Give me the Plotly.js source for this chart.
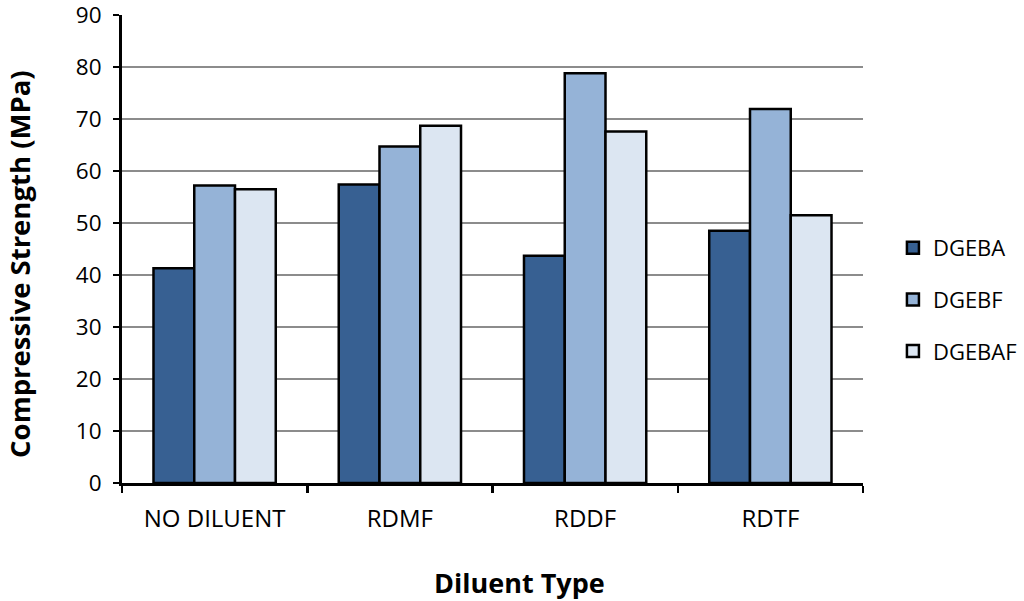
<!DOCTYPE html>
<html>
<head>
<meta charset="utf-8">
<script src="https://cdn.plot.ly/plotly-3.0.1.min.js"></script>
<style>html,body{margin:0;padding:0;background:#fff}#chart{width:1024px;height:601px}</style>
</head>
<body>
<div id="chart"></div>
<script>
const categories = ["NO DILUENT", "RDMF", "RDDF", "RDTF"];
const seriesNames = ["DGEBA", "DGEBF", "DGEBAF"];
const dgeba = [41.3, 57.4, 43.7, 48.5];
const dgebf = [57.2, 64.7, 78.8, 71.9];
const dgebaf = [56.5, 68.7, 67.6, 51.5];
const colors = ["#376092", "#95b3d7", "#dce6f2"];
const values = [dgeba, dgebf, dgebaf];
const xTitle = "Diluent Type";
const yTitle = "Compressive Strength (MPa)";

const font = "'Open Sans', sans-serif";
const traces = values.map((v, i) => ({
  type: "bar",
  name: seriesNames[i],
  x: categories,
  y: v,
  legendgroup: "g" + i,
  marker: {color: colors[i], line: {color: "#000", width: 2.5}}
}));

const layout = {
  width: 1024, height: 601,
  margin: {l: 122, r: 161, t: 15, b: 118},
  paper_bgcolor: "#fff", plot_bgcolor: "#fff",
  barmode: "group", bargap: 0.34, bargroupgap: 0,
  font: {family: font, color: "#000", size: 19},
  xaxis: {
    type: "category",
    showline: true, linecolor: "#000", linewidth: 3,
    ticks: "outside", tickson: "boundaries", ticklen: 7, tickwidth: 2.5, tickcolor: "#000",
    tickfont: {size: 24, family: font},
    ticklabelstandoff: 12,
    ticklabeloverflow: "allow",
    showgrid: false
  },
  yaxis: {
    range: [0, 90], dtick: 10,
    showline: true, linecolor: "#000", linewidth: 3,
    ticks: "outside", ticklen: 6, tickwidth: 2.5, tickcolor: "#000",
    tickfont: {size: 22.5, family: font},
    ticklabelstandoff: 7,
    ticklabeloverflow: "allow",
    showgrid: true, gridcolor: "#8c8c8c", gridwidth: 2,
    zeroline: false
  },
  annotations: [
    {text: "<b>" + yTitle + "</b>", textangle: -90, showarrow: false,
     xref: "paper", yref: "paper", x: 0, y: 0.466, xanchor: "center", yanchor: "middle",
     xshift: -102, font: {size: 27.5, family: font, color: "#000"}},
    {text: "<b>" + xTitle + "</b>", showarrow: false,
     xref: "paper", yref: "paper", x: 0.537, y: 0, xanchor: "center", yanchor: "middle",
     yshift: -99, font: {size: 27, family: font, color: "#000"}}
  ],
  legend: {
    xref: "container", yref: "paper",
    x: 0.872, xanchor: "left", y: 0.392, yanchor: "middle",
    font: {size: 22, family: font},
    traceorder: "grouped", tracegroupgap: 20,
    itemwidth: 30
  }
};

Plotly.newPlot("chart", traces, layout, {displayModeBar: false, staticPlot: true});
</script>
</body>
</html>
